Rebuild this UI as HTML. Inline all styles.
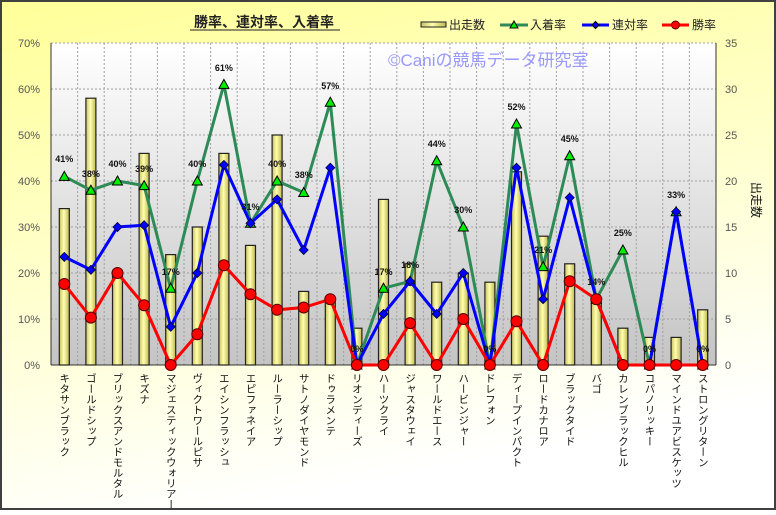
<!DOCTYPE html>
<html><head><meta charset="utf-8"><style>
html,body{margin:0;padding:0;}
body{width:776px;height:510px;overflow:hidden;}
</style></head><body>
<svg width="776" height="510" xmlns="http://www.w3.org/2000/svg" font-family="Liberation Sans, Noto Sans CJK JP, sans-serif">
<defs>
<linearGradient id="bg" x1="0" y1="0" x2="0.3" y2="1">
<stop offset="0" stop-color="#ffff99"/><stop offset="0.55" stop-color="#ffffd0"/><stop offset="1" stop-color="#ffffff"/>
</linearGradient>
<linearGradient id="pa" x1="0" y1="0" x2="0" y2="1">
<stop offset="0" stop-color="#ffffff"/><stop offset="1" stop-color="#c4c4c4"/>
</linearGradient>
<linearGradient id="bar" x1="0" y1="0" x2="1" y2="0">
<stop offset="0" stop-color="#c8c060"/><stop offset="0.45" stop-color="#ffffb0"/><stop offset="1" stop-color="#c0b850"/>
</linearGradient>
</defs>
<rect x="1" y="1" width="774" height="508" fill="url(#bg)" stroke="#404040" stroke-width="2"/>
<rect x="51" y="43" width="665" height="322" fill="url(#pa)"/>
<g stroke="#a0a0a0" stroke-width="1" stroke-dasharray="2,2">
<line x1="51" y1="43" x2="716" y2="43"/><line x1="51" y1="89" x2="716" y2="89"/><line x1="51" y1="135" x2="716" y2="135"/><line x1="51" y1="181" x2="716" y2="181"/><line x1="51" y1="227" x2="716" y2="227"/><line x1="51" y1="273" x2="716" y2="273"/><line x1="51" y1="319" x2="716" y2="319"/>
<line x1="77.6" y1="43" x2="77.6" y2="365"/><line x1="104.2" y1="43" x2="104.2" y2="365"/><line x1="130.8" y1="43" x2="130.8" y2="365"/><line x1="157.4" y1="43" x2="157.4" y2="365"/><line x1="184" y1="43" x2="184" y2="365"/><line x1="210.6" y1="43" x2="210.6" y2="365"/><line x1="237.2" y1="43" x2="237.2" y2="365"/><line x1="263.8" y1="43" x2="263.8" y2="365"/><line x1="290.4" y1="43" x2="290.4" y2="365"/><line x1="317" y1="43" x2="317" y2="365"/><line x1="343.6" y1="43" x2="343.6" y2="365"/><line x1="370.2" y1="43" x2="370.2" y2="365"/><line x1="396.8" y1="43" x2="396.8" y2="365"/><line x1="423.4" y1="43" x2="423.4" y2="365"/><line x1="450" y1="43" x2="450" y2="365"/><line x1="476.6" y1="43" x2="476.6" y2="365"/><line x1="503.2" y1="43" x2="503.2" y2="365"/><line x1="529.8" y1="43" x2="529.8" y2="365"/><line x1="556.4" y1="43" x2="556.4" y2="365"/><line x1="583" y1="43" x2="583" y2="365"/><line x1="609.6" y1="43" x2="609.6" y2="365"/><line x1="636.2" y1="43" x2="636.2" y2="365"/><line x1="662.8" y1="43" x2="662.8" y2="365"/><line x1="689.4" y1="43" x2="689.4" y2="365"/>
</g>
<text x="388" y="66" font-size="17" fill="#9999ff">©Caniの競馬データ研究室</text>
<g stroke="#333" stroke-width="1" fill="none">
<line x1="51" y1="43" x2="51" y2="365"/><line x1="51" y1="365" x2="716" y2="365"/><line x1="716" y1="43" x2="716" y2="365"/>
</g>
<g fill="url(#bar)" stroke="#222" stroke-width="1.2">
<rect x="59.3" y="208.6" width="10" height="156.4"/><rect x="85.9" y="98.2" width="10" height="266.8"/><rect x="112.5" y="273" width="10" height="92"/><rect x="139.1" y="153.4" width="10" height="211.6"/><rect x="165.7" y="254.6" width="10" height="110.4"/><rect x="192.3" y="227" width="10" height="138"/><rect x="218.9" y="153.4" width="10" height="211.6"/><rect x="245.5" y="245.4" width="10" height="119.6"/><rect x="272.1" y="135" width="10" height="230"/><rect x="298.7" y="291.4" width="10" height="73.6"/><rect x="325.3" y="300.6" width="10" height="64.4"/><rect x="351.9" y="328.2" width="10" height="36.8"/><rect x="378.5" y="199.4" width="10" height="165.6"/><rect x="405.1" y="263.8" width="10" height="101.2"/><rect x="431.7" y="282.2" width="10" height="82.8"/><rect x="458.3" y="273" width="10" height="92"/><rect x="484.9" y="282.2" width="10" height="82.8"/><rect x="511.5" y="171.8" width="10" height="193.2"/><rect x="538.1" y="236.2" width="10" height="128.8"/><rect x="564.7" y="263.8" width="10" height="101.2"/><rect x="591.3" y="300.6" width="10" height="64.4"/><rect x="617.9" y="328.2" width="10" height="36.8"/><rect x="644.5" y="337.4" width="10" height="27.6"/><rect x="671.1" y="337.4" width="10" height="27.6"/><rect x="697.7" y="309.8" width="10" height="55.2"/>
</g>
<polyline fill="none" stroke="#2e8b57" stroke-width="3" points="64.3,176.4 90.9,190.2 117.5,181 144.1,185.6 170.7,288.2 197.3,181 223.9,84.4 250.5,223.3 277.1,181 303.7,192.5 330.3,102.3 356.9,365 383.5,288.2 410.1,281.3 436.7,160.8 463.3,227 489.9,365 516.5,124 543.1,266.6 569.7,155.7 596.3,299.2 622.9,250 649.5,365 676.1,211.8 702.7,365"/>
<g fill="#00ee00" stroke="#000" stroke-width="1">
<path d="M64.3,171.4l5,9h-10z"/><path d="M90.9,185.2l5,9h-10z"/><path d="M117.5,176l5,9h-10z"/><path d="M144.1,180.6l5,9h-10z"/><path d="M170.7,283.2l5,9h-10z"/><path d="M197.3,176l5,9h-10z"/><path d="M223.9,79.4l5,9h-10z"/><path d="M250.5,218.3l5,9h-10z"/><path d="M277.1,176l5,9h-10z"/><path d="M303.7,187.5l5,9h-10z"/><path d="M330.3,97.3l5,9h-10z"/><path d="M356.9,360l5,9h-10z"/><path d="M383.5,283.2l5,9h-10z"/><path d="M410.1,276.3l5,9h-10z"/><path d="M436.7,155.8l5,9h-10z"/><path d="M463.3,222l5,9h-10z"/><path d="M489.9,360l5,9h-10z"/><path d="M516.5,119l5,9h-10z"/><path d="M543.1,261.6l5,9h-10z"/><path d="M569.7,150.7l5,9h-10z"/><path d="M596.3,294.2l5,9h-10z"/><path d="M622.9,245l5,9h-10z"/><path d="M649.5,360l5,9h-10z"/><path d="M676.1,206.8l5,9h-10z"/><path d="M702.7,360l5,9h-10z"/>
</g>
<polyline fill="none" stroke="#0000ff" stroke-width="3" points="64.3,256.9 90.9,269.8 117.5,227 144.1,225.2 170.7,326.8 197.3,273 223.9,164.9 250.5,223.3 277.1,199.4 303.7,250 330.3,167.7 356.9,365 383.5,313.9 410.1,281.3 436.7,313.9 463.3,273 489.9,365 516.5,167.7 543.1,299.2 569.7,197.6 596.3,299.2 622.9,365 649.5,365 676.1,211.8 702.7,365"/>
<g fill="#0000ff" stroke="#000033" stroke-width="0.8">
<path d="M64.3,252.4l4.5,4.5l-4.5,4.5l-4.5,-4.5z"/><path d="M90.9,265.3l4.5,4.5l-4.5,4.5l-4.5,-4.5z"/><path d="M117.5,222.5l4.5,4.5l-4.5,4.5l-4.5,-4.5z"/><path d="M144.1,220.7l4.5,4.5l-4.5,4.5l-4.5,-4.5z"/><path d="M170.7,322.3l4.5,4.5l-4.5,4.5l-4.5,-4.5z"/><path d="M197.3,268.5l4.5,4.5l-4.5,4.5l-4.5,-4.5z"/><path d="M223.9,160.4l4.5,4.5l-4.5,4.5l-4.5,-4.5z"/><path d="M250.5,218.8l4.5,4.5l-4.5,4.5l-4.5,-4.5z"/><path d="M277.1,194.9l4.5,4.5l-4.5,4.5l-4.5,-4.5z"/><path d="M303.7,245.5l4.5,4.5l-4.5,4.5l-4.5,-4.5z"/><path d="M330.3,163.2l4.5,4.5l-4.5,4.5l-4.5,-4.5z"/><path d="M383.5,309.4l4.5,4.5l-4.5,4.5l-4.5,-4.5z"/><path d="M410.1,276.8l4.5,4.5l-4.5,4.5l-4.5,-4.5z"/><path d="M436.7,309.4l4.5,4.5l-4.5,4.5l-4.5,-4.5z"/><path d="M463.3,268.5l4.5,4.5l-4.5,4.5l-4.5,-4.5z"/><path d="M516.5,163.2l4.5,4.5l-4.5,4.5l-4.5,-4.5z"/><path d="M543.1,294.7l4.5,4.5l-4.5,4.5l-4.5,-4.5z"/><path d="M569.7,193.1l4.5,4.5l-4.5,4.5l-4.5,-4.5z"/><path d="M596.3,294.7l4.5,4.5l-4.5,4.5l-4.5,-4.5z"/><path d="M676.1,207.3l4.5,4.5l-4.5,4.5l-4.5,-4.5z"/>
</g>
<polyline fill="none" stroke="#ff0000" stroke-width="3" points="64.3,284 90.9,317.6 117.5,273 144.1,305.2 170.7,365 197.3,334.2 223.9,265.2 250.5,294.2 277.1,309.8 303.7,307.5 330.3,299.2 356.9,365 383.5,365 410.1,323.1 436.7,365 463.3,319 489.9,365 516.5,321.3 543.1,365 569.7,281.3 596.3,299.2 622.9,365 649.5,365 676.1,365 702.7,365"/>
<g fill="#ff0000" stroke="#550000" stroke-width="1">
<circle cx="64.3" cy="284" r="5.5"/><circle cx="90.9" cy="317.6" r="5.5"/><circle cx="117.5" cy="273" r="5.5"/><circle cx="144.1" cy="305.2" r="5.5"/><circle cx="170.7" cy="365" r="5.5"/><circle cx="197.3" cy="334.2" r="5.5"/><circle cx="223.9" cy="265.2" r="5.5"/><circle cx="250.5" cy="294.2" r="5.5"/><circle cx="277.1" cy="309.8" r="5.5"/><circle cx="303.7" cy="307.5" r="5.5"/><circle cx="330.3" cy="299.2" r="5.5"/><circle cx="356.9" cy="365" r="5.5"/><circle cx="383.5" cy="365" r="5.5"/><circle cx="410.1" cy="323.1" r="5.5"/><circle cx="436.7" cy="365" r="5.5"/><circle cx="463.3" cy="319" r="5.5"/><circle cx="489.9" cy="365" r="5.5"/><circle cx="516.5" cy="321.3" r="5.5"/><circle cx="543.1" cy="365" r="5.5"/><circle cx="569.7" cy="281.3" r="5.5"/><circle cx="596.3" cy="299.2" r="5.5"/><circle cx="622.9" cy="365" r="5.5"/><circle cx="649.5" cy="365" r="5.5"/><circle cx="676.1" cy="365" r="5.5"/><circle cx="702.7" cy="365" r="5.5"/>
</g>
<g font-size="9" font-weight="bold" fill="#111" text-anchor="middle">
<text x="64.3" y="162">41%</text><text x="90.9" y="177">38%</text><text x="117.5" y="167">40%</text><text x="144.1" y="172">39%</text><text x="170.7" y="275">17%</text><text x="197.3" y="167">40%</text><text x="223.9" y="71">61%</text><text x="250.5" y="210">31%</text><text x="277.1" y="167">40%</text><text x="303.7" y="178">38%</text><text x="330.3" y="89">57%</text><text x="356.9" y="352">0%</text><text x="383.5" y="275">17%</text><text x="410.1" y="268">18%</text><text x="436.7" y="147">44%</text><text x="463.3" y="213">30%</text><text x="489.9" y="352">0%</text><text x="516.5" y="110">52%</text><text x="543.1" y="253">21%</text><text x="569.7" y="142">45%</text><text x="596.3" y="285">14%</text><text x="622.9" y="236">25%</text><text x="649.5" y="352">0%</text><text x="676.1" y="198">33%</text><text x="702.7" y="352">0%</text>
</g>
<g font-size="11" fill="#555" text-anchor="end">
<text x="40" y="369">0%</text><text x="40" y="323">10%</text><text x="40" y="277">20%</text><text x="40" y="231">30%</text><text x="40" y="185">40%</text><text x="40" y="139">50%</text><text x="40" y="93">60%</text><text x="40" y="47">70%</text>
</g>
<g font-size="11" fill="#555">
<text x="725" y="369">0</text><text x="725" y="323">5</text><text x="725" y="277">10</text><text x="725" y="231">15</text><text x="725" y="185">20</text><text x="725" y="139">25</text><text x="725" y="93">30</text><text x="725" y="47">35</text>
</g>
<text x="0" y="0" font-size="12" fill="#111" transform="translate(752,182) rotate(90)">出走数</text>
<text x="264" y="27" font-size="14" font-weight="bold" fill="#222" text-anchor="middle">勝率、連対率、入着率</text>
<line x1="190" y1="30" x2="340" y2="30" stroke="#222" stroke-width="1"/>
<rect x="421" y="22" width="25" height="5" fill="url(#bar)" stroke="#222"/>
<text x="449" y="29" font-size="12" fill="#222">出走数</text>
<line x1="500" y1="25" x2="528" y2="25" stroke="#2e8b57" stroke-width="3"/><path d="M514,21l4,7h-8z" fill="#00ee00" stroke="#000"/>
<text x="530" y="29" font-size="12" fill="#222">入着率</text>
<line x1="582" y1="25" x2="609" y2="25" stroke="#0000ff" stroke-width="3"/><path d="M595.5,21.5l3.5,3.5l-3.5,3.5l-3.5,-3.5z" fill="#0000ff" stroke="#000"/>
<text x="612" y="29" font-size="12" fill="#222">連対率</text>
<line x1="662" y1="25" x2="689" y2="25" stroke="#ff0000" stroke-width="3"/><circle cx="675.5" cy="25" r="4" fill="#ff0000" stroke="#500"/>
<text x="692" y="29" font-size="12" fill="#222">勝率</text>
<g font-size="10.5" fill="#111" style="writing-mode:vertical-rl">
<text x="64.3" y="373">キタサンブラック</text><text x="90.9" y="373">ゴールドシップ</text><text x="117.5" y="373">ブリックスアンドモルタル</text><text x="144.1" y="373">キズナ</text><text x="170.7" y="373">マジェスティックウォリアー</text><text x="197.3" y="373">ヴィクトワールピサ</text><text x="223.9" y="373">エイシンフラッシュ</text><text x="250.5" y="373">エピファネイア</text><text x="277.1" y="373">ルーラーシップ</text><text x="303.7" y="373">サトノダイヤモンド</text><text x="330.3" y="373">ドゥラメンテ</text><text x="356.9" y="373">リオンディーズ</text><text x="383.5" y="373">ハーツクライ</text><text x="410.1" y="373">ジャスタウェイ</text><text x="436.7" y="373">ワールドエース</text><text x="463.3" y="373">ハービンジャー</text><text x="489.9" y="373">ドレフォン</text><text x="516.5" y="373">ディープインパクト</text><text x="543.1" y="373">ロードカナロア</text><text x="569.7" y="373">ブラックタイド</text><text x="596.3" y="373">バゴ</text><text x="622.9" y="373">カレンブラックヒル</text><text x="649.5" y="373">コパノリッキー</text><text x="676.1" y="373">マインドユアビスケッツ</text><text x="702.7" y="373">ストロングリターン</text>
</g>
</svg>
</body></html>
